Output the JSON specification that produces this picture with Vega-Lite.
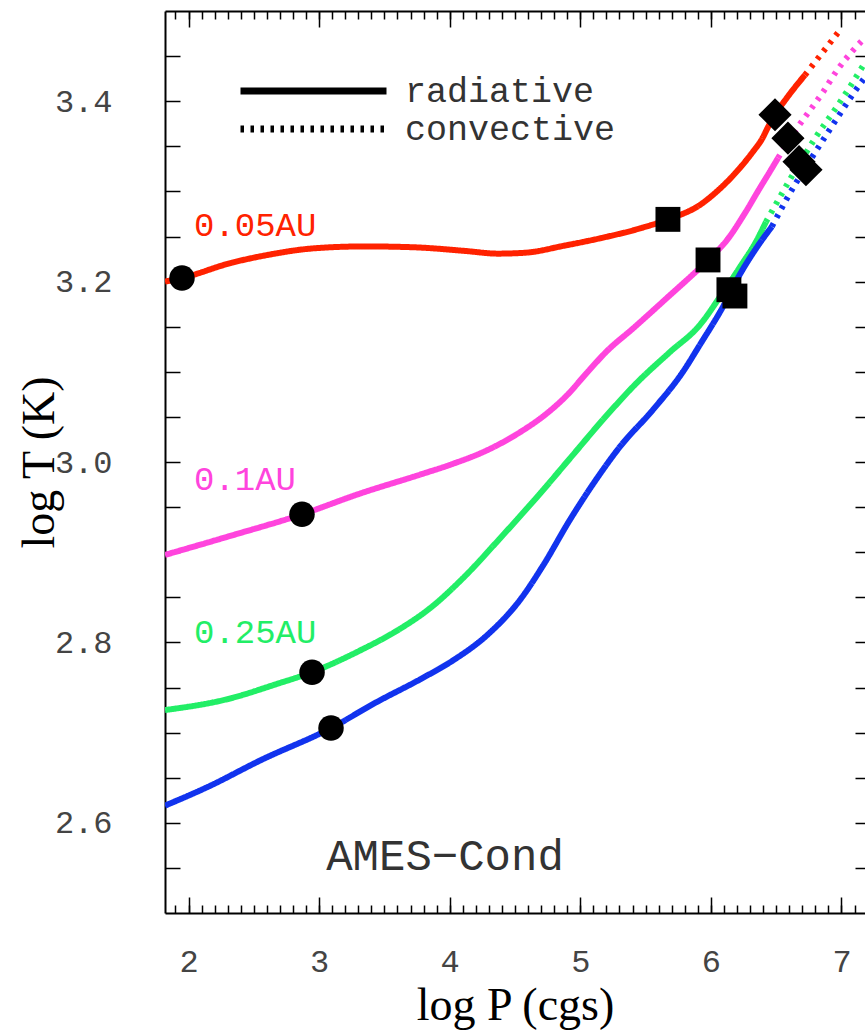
{
  "$schema": "https://vega.github.io/schema/vega-lite/v6.json",
  "width": 700,
  "height": 902,
  "autosize": {"type": "none"},
  "padding": {"left": 165, "top": 11, "right": 0, "bottom": 123},
  "background": "white",
  "datasets": {
    "curves": [
      {"s": "0.05AU", "r": "radiative", "P": 1.82, "T": 3.200},
      {"s": "0.05AU", "r": "radiative", "P": 1.95, "T": 3.204},
      {"s": "0.05AU", "r": "radiative", "P": 2.333, "T": 3.221},
      {"s": "0.05AU", "r": "radiative", "P": 2.586, "T": 3.229},
      {"s": "0.05AU", "r": "radiative", "P": 2.969, "T": 3.237},
      {"s": "0.05AU", "r": "radiative", "P": 3.351, "T": 3.239},
      {"s": "0.05AU", "r": "radiative", "P": 3.734, "T": 3.238},
      {"s": "0.05AU", "r": "radiative", "P": 4.117, "T": 3.234},
      {"s": "0.05AU", "r": "radiative", "P": 4.370, "T": 3.231},
      {"s": "0.05AU", "r": "radiative", "P": 4.577, "T": 3.232},
      {"s": "0.05AU", "r": "radiative", "P": 4.883, "T": 3.240},
      {"s": "0.05AU", "r": "radiative", "P": 5.151, "T": 3.248},
      {"s": "0.05AU", "r": "radiative", "P": 5.457, "T": 3.259},
      {"s": "0.05AU", "r": "radiative", "P": 5.671, "T": 3.269},
      {"s": "0.05AU", "r": "radiative", "P": 5.916, "T": 3.285},
      {"s": "0.05AU", "r": "radiative", "P": 6.069, "T": 3.303},
      {"s": "0.05AU", "r": "radiative", "P": 6.222, "T": 3.326},
      {"s": "0.05AU", "r": "radiative", "P": 6.322, "T": 3.344},
      {"s": "0.05AU", "r": "radiative", "P": 6.391, "T": 3.358},
      {"s": "0.05AU", "r": "radiative", "P": 6.440, "T": 3.372},
      {"s": "0.05AU", "r": "radiative", "P": 6.491, "T": 3.385},
      {"s": "0.05AU", "r": "radiative", "P": 6.583, "T": 3.404},
      {"s": "0.05AU", "r": "radiative", "P": 6.720, "T": 3.429},
      {"s": "0.05AU", "r": "convective", "P": 6.720, "T": 3.429},
      {"s": "0.05AU", "r": "convective", "P": 6.973, "T": 3.476},
      {"s": "0.1AU", "r": "radiative", "P": 1.82, "T": 2.897},
      {"s": "0.1AU", "r": "radiative", "P": 2.295, "T": 2.917},
      {"s": "0.1AU", "r": "radiative", "P": 2.869, "T": 2.942},
      {"s": "0.1AU", "r": "radiative", "P": 3.313, "T": 2.965},
      {"s": "0.1AU", "r": "radiative", "P": 3.773, "T": 2.986},
      {"s": "0.1AU", "r": "radiative", "P": 4.025, "T": 2.998},
      {"s": "0.1AU", "r": "radiative", "P": 4.286, "T": 3.013},
      {"s": "0.1AU", "r": "radiative", "P": 4.538, "T": 3.033},
      {"s": "0.1AU", "r": "radiative", "P": 4.745, "T": 3.054},
      {"s": "0.1AU", "r": "radiative", "P": 4.898, "T": 3.074},
      {"s": "0.1AU", "r": "radiative", "P": 5.051, "T": 3.099},
      {"s": "0.1AU", "r": "radiative", "P": 5.204, "T": 3.123},
      {"s": "0.1AU", "r": "radiative", "P": 5.403, "T": 3.148},
      {"s": "0.1AU", "r": "radiative", "P": 5.664, "T": 3.182},
      {"s": "0.1AU", "r": "radiative", "P": 5.978, "T": 3.224},
      {"s": "0.1AU", "r": "radiative", "P": 6.123, "T": 3.246},
      {"s": "0.1AU", "r": "radiative", "P": 6.261, "T": 3.276},
      {"s": "0.1AU", "r": "radiative", "P": 6.376, "T": 3.304},
      {"s": "0.1AU", "r": "radiative", "P": 6.452, "T": 3.322},
      {"s": "0.1AU", "r": "radiative", "P": 6.514, "T": 3.337},
      {"s": "0.1AU", "r": "convective", "P": 6.514, "T": 3.337},
      {"s": "0.1AU", "r": "convective", "P": 6.659, "T": 3.370},
      {"s": "0.1AU", "r": "convective", "P": 6.759, "T": 3.390},
      {"s": "0.1AU", "r": "convective", "P": 6.858, "T": 3.410},
      {"s": "0.1AU", "r": "convective", "P": 6.965, "T": 3.434},
      {"s": "0.1AU", "r": "convective", "P": 7.080, "T": 3.455},
      {"s": "0.1AU", "r": "convective", "P": 7.164, "T": 3.468},
      {"s": "0.25AU", "r": "radiative", "P": 1.82, "T": 2.725},
      {"s": "0.25AU", "r": "radiative", "P": 2.295, "T": 2.737},
      {"s": "0.25AU", "r": "radiative", "P": 2.678, "T": 2.754},
      {"s": "0.25AU", "r": "radiative", "P": 2.946, "T": 2.767},
      {"s": "0.25AU", "r": "radiative", "P": 3.313, "T": 2.791},
      {"s": "0.25AU", "r": "radiative", "P": 3.619, "T": 2.815},
      {"s": "0.25AU", "r": "radiative", "P": 3.850, "T": 2.838},
      {"s": "0.25AU", "r": "radiative", "P": 4.100, "T": 2.871},
      {"s": "0.25AU", "r": "radiative", "P": 4.408, "T": 2.919},
      {"s": "0.25AU", "r": "radiative", "P": 4.668, "T": 2.961},
      {"s": "0.25AU", "r": "radiative", "P": 4.921, "T": 3.004},
      {"s": "0.25AU", "r": "radiative", "P": 5.174, "T": 3.047},
      {"s": "0.25AU", "r": "radiative", "P": 5.434, "T": 3.088},
      {"s": "0.25AU", "r": "radiative", "P": 5.687, "T": 3.122},
      {"s": "0.25AU", "r": "radiative", "P": 5.916, "T": 3.152},
      {"s": "0.25AU", "r": "radiative", "P": 6.069, "T": 3.183},
      {"s": "0.25AU", "r": "radiative", "P": 6.222, "T": 3.216},
      {"s": "0.25AU", "r": "radiative", "P": 6.352, "T": 3.246},
      {"s": "0.25AU", "r": "radiative", "P": 6.421, "T": 3.266},
      {"s": "0.25AU", "r": "convective", "P": 6.421, "T": 3.266},
      {"s": "0.25AU", "r": "convective", "P": 6.605, "T": 3.313},
      {"s": "0.25AU", "r": "convective", "P": 6.812, "T": 3.362},
      {"s": "0.25AU", "r": "convective", "P": 6.965, "T": 3.394},
      {"s": "0.25AU", "r": "convective", "P": 7.065, "T": 3.416},
      {"s": "0.25AU", "r": "convective", "P": 7.172, "T": 3.441},
      {"s": "1AU", "r": "radiative", "P": 1.82, "T": 2.619},
      {"s": "1AU", "r": "radiative", "P": 2.165, "T": 2.641},
      {"s": "1AU", "r": "radiative", "P": 2.547, "T": 2.669},
      {"s": "1AU", "r": "radiative", "P": 3.091, "T": 2.705},
      {"s": "1AU", "r": "radiative", "P": 3.443, "T": 2.734},
      {"s": "1AU", "r": "radiative", "P": 3.773, "T": 2.759},
      {"s": "1AU", "r": "radiative", "P": 4.025, "T": 2.780},
      {"s": "1AU", "r": "radiative", "P": 4.286, "T": 2.808},
      {"s": "1AU", "r": "radiative", "P": 4.538, "T": 2.847},
      {"s": "1AU", "r": "radiative", "P": 4.714, "T": 2.885},
      {"s": "1AU", "r": "radiative", "P": 4.921, "T": 2.936},
      {"s": "1AU", "r": "radiative", "P": 5.128, "T": 2.982},
      {"s": "1AU", "r": "radiative", "P": 5.304, "T": 3.017},
      {"s": "1AU", "r": "radiative", "P": 5.557, "T": 3.058},
      {"s": "1AU", "r": "radiative", "P": 5.786, "T": 3.100},
      {"s": "1AU", "r": "radiative", "P": 5.916, "T": 3.130},
      {"s": "1AU", "r": "radiative", "P": 6.092, "T": 3.172},
      {"s": "1AU", "r": "radiative", "P": 6.222, "T": 3.208},
      {"s": "1AU", "r": "radiative", "P": 6.352, "T": 3.238},
      {"s": "1AU", "r": "radiative", "P": 6.467, "T": 3.261},
      {"s": "1AU", "r": "convective", "P": 6.467, "T": 3.261},
      {"s": "1AU", "r": "convective", "P": 6.582, "T": 3.292},
      {"s": "1AU", "r": "convective", "P": 6.850, "T": 3.355},
      {"s": "1AU", "r": "convective", "P": 6.988, "T": 3.386},
      {"s": "1AU", "r": "convective", "P": 7.088, "T": 3.408},
      {"s": "1AU", "r": "convective", "P": 7.178, "T": 3.426}
    ],
    "markers": [
      {"s": "0.05AU", "level": "A", "P": 1.95, "T": 3.204},
      {"s": "0.1AU", "level": "A", "P": 2.869, "T": 2.942},
      {"s": "0.25AU", "level": "A", "P": 2.946, "T": 2.767},
      {"s": "1AU", "level": "A", "P": 3.091, "T": 2.705},
      {"s": "0.05AU", "level": "B", "P": 5.671, "T": 3.269},
      {"s": "0.1AU", "level": "B", "P": 5.978, "T": 3.224},
      {"s": "0.25AU", "level": "B", "P": 6.138, "T": 3.191},
      {"s": "1AU", "level": "B", "P": 6.184, "T": 3.184},
      {"s": "0.05AU", "level": "C", "P": 6.491, "T": 3.385},
      {"s": "0.1AU", "level": "C", "P": 6.59, "T": 3.359},
      {"s": "0.25AU", "level": "C", "P": 6.675, "T": 3.333},
      {"s": "1AU", "level": "C", "P": 6.728, "T": 3.324}
    ],
    "labels": [
      {"s": "0.05AU", "label": "0.05AU", "P": 2.042, "T": 3.262},
      {"s": "0.1AU", "label": "0.1AU", "P": 2.042, "T": 2.980},
      {"s": "0.25AU", "label": "0.25AU", "P": 2.042, "T": 2.810}
    ],
    "note": [
      {"label": "AMES−Cond", "P": 3.964, "T": 2.562}
    ],
    "empty": []
  },
  "layer": [
    {
      "data": {"name": "curves"},
      "mark": {"type": "line", "strokeWidth": 6, "clip": true, "interpolate": "monotone"},
      "encoding": {
        "x": {"field": "P", "type": "quantitative", "scale": {"domain": [1.82, 7.18], "nice": false, "zero": false},
          "axis": {"orient": "bottom", "values": [2, 3, 4, 5, 6, 7], "ticks": false, "domain": true, "labelPadding": 33, "labelFlush": false, "title": "log P (cgs)", "titlePadding": 6}},
        "y": {"field": "T", "type": "quantitative", "scale": {"domain": [2.5, 3.5], "nice": false, "zero": false},
          "axis": {"orient": "left", "values": [2.6, 2.8, 3.0, 3.2, 3.4], "format": ".1f", "ticks": false, "domain": true, "labelPadding": 53, "labelFlush": false, "title": "log T (K)", "titlePadding": -9}},
        "color": {"field": "s", "type": "nominal", "scale": {"domain": ["0.05AU", "0.1AU", "0.25AU", "1AU"], "range": ["#ff2200", "#ff44dd", "#22ee66", "#1133ee"]}, "legend": null},
        "strokeDash": {"field": "r", "type": "nominal", "scale": {"domain": ["radiative", "convective"], "range": [[1, 0], [3.5, 6.5]]},
          "legend": {"orient": "none", "legendX": 72, "legendY": 61, "title": null, "symbolType": "stroke", "symbolSize": 21316, "symbolStrokeWidth": 7, "symbolStrokeColor": "#000", "clipHeight": 38, "rowPadding": 0, "padding": 0, "labelFont": "Liberation Mono", "labelFontSize": 35, "labelColor": "#333", "labelOffset": 15, "labelLimit": 500}}
      }
    },
    {
      "data": {"name": "markers"},
      "mark": {"type": "point", "filled": true, "color": "#000", "opacity": 1, "strokeWidth": 0},
      "encoding": {
        "x": {"field": "P", "type": "quantitative", "scale": {"domain": [1.82, 7.18], "nice": false, "zero": false}, "axis": null},
        "y": {"field": "T", "type": "quantitative", "scale": {"domain": [2.5, 3.5], "nice": false, "zero": false}, "axis": null},
        "shape": {"field": "level", "type": "nominal", "scale": {"domain": ["A", "B", "C"], "range": ["circle", "square", "diamond"]}, "legend": null},
        "size": {"field": "level", "type": "nominal", "scale": {"type": "ordinal", "domain": ["A", "B", "C"], "range": [650, 620, 1100]}, "legend": null}
      }
    },
    {
      "data": {"name": "labels"},
      "mark": {"type": "text", "align": "left", "baseline": "middle", "font": "Liberation Mono", "fontSize": 34},
      "encoding": {
        "x": {"field": "P", "type": "quantitative", "scale": {"domain": [1.82, 7.18], "nice": false, "zero": false}, "axis": null},
        "y": {"field": "T", "type": "quantitative", "scale": {"domain": [2.5, 3.5], "nice": false, "zero": false}, "axis": null},
        "text": {"field": "label"},
        "color": {"field": "s", "type": "nominal", "legend": null}
      }
    },
    {
      "data": {"name": "note"},
      "mark": {"type": "text", "align": "center", "baseline": "middle", "font": "Liberation Mono", "fontSize": 44, "color": "#333"},
      "encoding": {
        "x": {"field": "P", "type": "quantitative", "scale": {"domain": [1.82, 7.18], "nice": false, "zero": false}, "axis": null},
        "y": {"field": "T", "type": "quantitative", "scale": {"domain": [2.5, 3.5], "nice": false, "zero": false}, "axis": null},
        "text": {"field": "label"}
      }
    },
    {
      "data": {"name": "empty"},
      "mark": "point",
      "encoding": {
        "x": {"field": "P", "type": "quantitative", "scale": {"domain": [1.82, 7.18], "nice": false, "zero": false},
          "axis": {"orient": "bottom", "values": [2, 3, 4, 5, 6, 7], "tickSize": -16, "labels": false, "domain": false, "title": null}},
        "y": {"field": "T", "type": "quantitative", "scale": {"domain": [2.5, 3.5], "nice": false, "zero": false},
          "axis": {"orient": "left", "values": [2.55, 2.6, 2.65, 2.7, 2.75, 2.8, 2.85, 2.9, 2.95, 3.0, 3.05, 3.1, 3.15, 3.2, 3.25, 3.3, 3.35, 3.4, 3.45], "tickSize": -15, "labels": false, "domain": false, "title": null}}
      }
    },
    {
      "data": {"name": "empty"},
      "mark": "point",
      "encoding": {
        "x": {"field": "P", "type": "quantitative", "scale": {"domain": [1.82, 7.18], "nice": false, "zero": false},
          "axis": {"orient": "bottom", "values": [1.9, 2.0, 2.1, 2.2, 2.3, 2.4, 2.5, 2.6, 2.7, 2.8, 2.9, 3.0, 3.1, 3.2, 3.3, 3.4, 3.5, 3.6, 3.7, 3.8, 3.9, 4.0, 4.1, 4.2, 4.3, 4.4, 4.5, 4.6, 4.7, 4.8, 4.9, 5.0, 5.1, 5.2, 5.3, 5.4, 5.5, 5.6, 5.7, 5.8, 5.9, 6.0, 6.1, 6.2, 6.3, 6.4, 6.5, 6.6, 6.7, 6.8, 6.9, 7.0, 7.1], "tickSize": -8, "labels": false, "domain": false, "title": null}},
        "y": {"field": "T", "type": "quantitative", "scale": {"domain": [2.5, 3.5], "nice": false, "zero": false},
          "axis": {"orient": "right", "values": [2.55, 2.6, 2.65, 2.7, 2.75, 2.8, 2.85, 2.9, 2.95, 3.0, 3.05, 3.1, 3.15, 3.2, 3.25, 3.3, 3.35, 3.4, 3.45], "tickSize": -10, "labels": false, "domain": false, "title": null}}
      }
    },
    {
      "data": {"name": "empty"},
      "mark": "point",
      "encoding": {
        "x": {"field": "P", "type": "quantitative", "scale": {"domain": [1.82, 7.18], "nice": false, "zero": false},
          "axis": {"orient": "top", "values": [2, 3, 4, 5, 6, 7], "tickSize": -16, "labels": false, "domain": true, "title": null}},
        "y": {"field": "T", "type": "quantitative", "scale": {"domain": [2.5, 3.5], "nice": false, "zero": false}, "axis": null}
      }
    },
    {
      "data": {"name": "empty"},
      "mark": "point",
      "encoding": {
        "x": {"field": "P", "type": "quantitative", "scale": {"domain": [1.82, 7.18], "nice": false, "zero": false},
          "axis": {"orient": "top", "values": [1.9, 2.0, 2.1, 2.2, 2.3, 2.4, 2.5, 2.6, 2.7, 2.8, 2.9, 3.0, 3.1, 3.2, 3.3, 3.4, 3.5, 3.6, 3.7, 3.8, 3.9, 4.0, 4.1, 4.2, 4.3, 4.4, 4.5, 4.6, 4.7, 4.8, 4.9, 5.0, 5.1, 5.2, 5.3, 5.4, 5.5, 5.6, 5.7, 5.8, 5.9, 6.0, 6.1, 6.2, 6.3, 6.4, 6.5, 6.6, 6.7, 6.8, 6.9, 7.0, 7.1], "tickSize": -8, "labels": false, "domain": false, "title": null}},
        "y": {"field": "T", "type": "quantitative", "scale": {"domain": [2.5, 3.5], "nice": false, "zero": false}, "axis": null}
      }
    }
  ],
  "resolve": {"axis": {"x": "independent", "y": "independent"}},
  "config": {
    "view": {"stroke": null},
    "axis": {"grid": false, "tickColor": "#000", "tickWidth": 1.5, "domainColor": "#000", "domainWidth": 2, "labelFont": "Liberation Mono", "labelFontSize": 32, "labelColor": "#444", "titleFont": "Liberation Serif", "titleFontSize": 46, "titleFontWeight": "normal", "titleColor": "#000"}
  }
}
